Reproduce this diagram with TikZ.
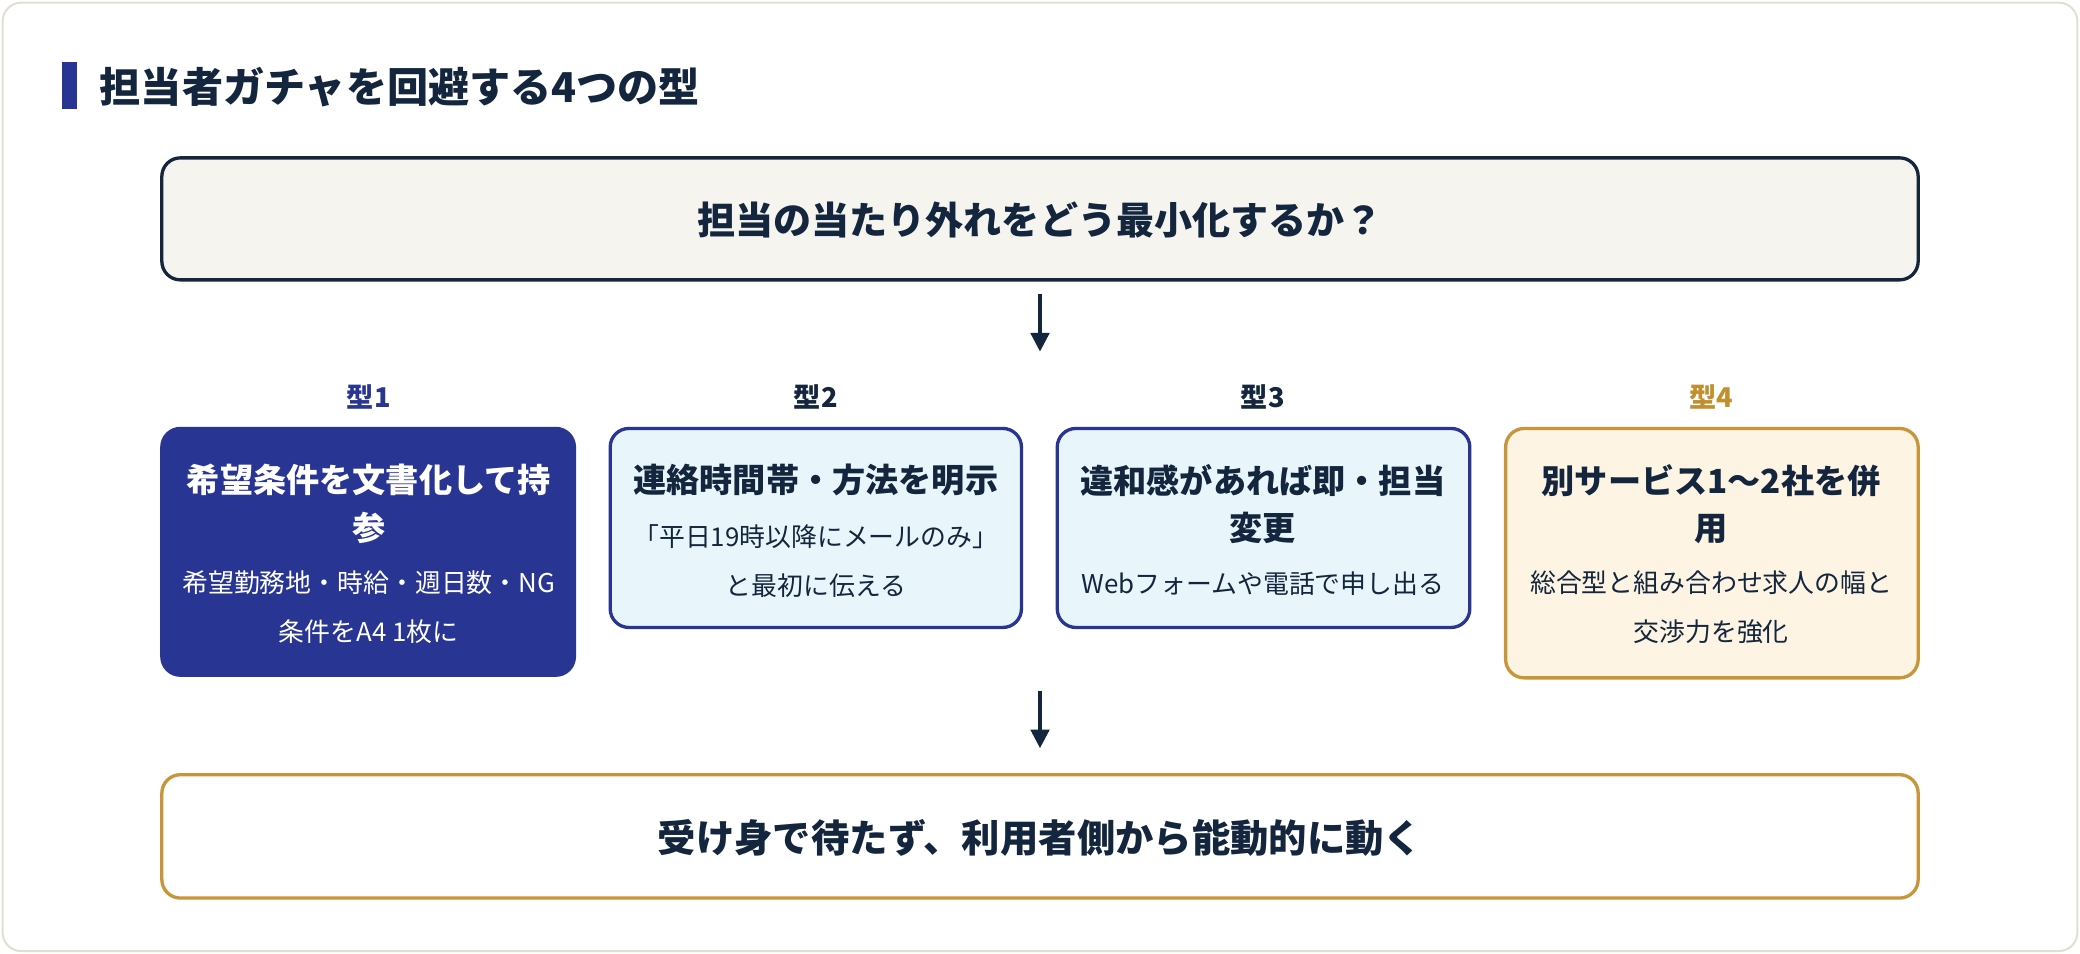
\documentclass[tikz,border=0pt]{standalone}
\usepackage{fontspec}
\setmainfont{Noto Sans CJK JP}
\usetikzlibrary{arrows.meta}
\definecolor{navy}{HTML}{14263D}
\definecolor{blu}{HTML}{283593}
\definecolor{gold}{HTML}{C8963A}
\definecolor{goldt}{HTML}{C0902F}
\definecolor{ltblue}{HTML}{E8F6FC}
\definecolor{cream}{HTML}{FDF4E3}
\definecolor{topfill}{HTML}{F5F4EF}
\definecolor{edge}{HTML}{E2DFD0}
\tikzset{
 big/.style={rounded corners=14pt,line width=2.5pt},
 card/.style={rounded corners=14pt,line width=2.5pt},
 arr/.style={-{Triangle[length=14pt,width=14pt]},line width=2.5pt,draw=navy},
 ttl/.style={font=\fontsize{25}{36}\selectfont\bfseries,align=center},
 sub/.style={font=\fontsize{19.5}{37}\selectfont,align=center},
 lab/.style={font=\fontsize{20.5}{24}\selectfont\bfseries},
}
\begin{document}
\begin{tikzpicture}[x=1pt,y=-1pt]
\useasboundingbox (0,0) rectangle (1568,719);
\fill[white] (0,0) rectangle (1568,719);
\draw[edge,line width=1.5pt,rounded corners=14pt,fill=white] (2,2) rectangle (1566,717);
\fill[blu] (47,47) rectangle (58,82);
\node[anchor=west,text=navy,font=\fontsize{31}{34}\selectfont\bfseries,inner sep=0pt] (title) at (75,66) {担当者ガチャを回避する4つの型};
\draw[big,draw=navy,fill=topfill] (122,119) rectangle (1446,211);
\node[text=navy,font=\fontsize{28.7}{32}\selectfont\bfseries] (q) at (784,166) {担当の当たり外れをどう最小化するか？};
\coordinate (a1) at (784,222); \coordinate (a2) at (784,265);
\draw[arr] (a1) -- (a2);
\node[lab,text=blu] (l1) at (278,299) {型1};
\node[lab,text=navy] (l2) at (615,299) {型2};
\node[lab,text=navy] (l3) at (952,299) {型3};
\node[lab,text=goldt] (l4) at (1290,299) {型4};
\draw[card,draw=blu,fill=blu] (122,323) rectangle (433,509);
\draw[card,draw=blu,fill=ltblue] (460,323) rectangle (770,473);
\draw[card,draw=blu,fill=ltblue] (797,323) rectangle (1108,473);
\draw[card,draw=gold,fill=cream] (1135,323) rectangle (1446,511);
\node[ttl,text=white] (t1) at (278,380) {希望条件を文書化して持\\参};
\node[sub,text=white] (s1) at (278,458) {希望勤務地・時給・週日数・NG\\条件をA4 1枚に};
\node[ttl,text=navy] (t2) at (615,362) {連絡時間帯・方法を明示};
\node[sub,text=navy] (s2) at (615,423) {「平日19時以降にメールのみ」\\と最初に伝える};
\node[ttl,text=navy] (t3) at (952,380) {違和感があれば即・担当\\変更};
\node[sub,text=navy] (s3) at (952,440) {Webフォームや電話で申し出る};
\node[ttl,text=navy] (t4) at (1290,380) {別サービス1〜2社を併\\用};
\node[sub,text=navy] (s4) at (1290,458) {総合型と組み合わせ求人の幅と\\交渉力を強化};
\coordinate (b1) at (784,521); \coordinate (b2) at (784,564);
\draw[arr] (b1) -- (b2);
\draw[big,draw=gold,fill=white] (122,584) rectangle (1446,677);
\node[text=navy,font=\fontsize{28.9}{32}\selectfont\bfseries] (c) at (784,632) {受け身で待たず、利用者側から能動的に動く};
\end{tikzpicture}
\end{document}
